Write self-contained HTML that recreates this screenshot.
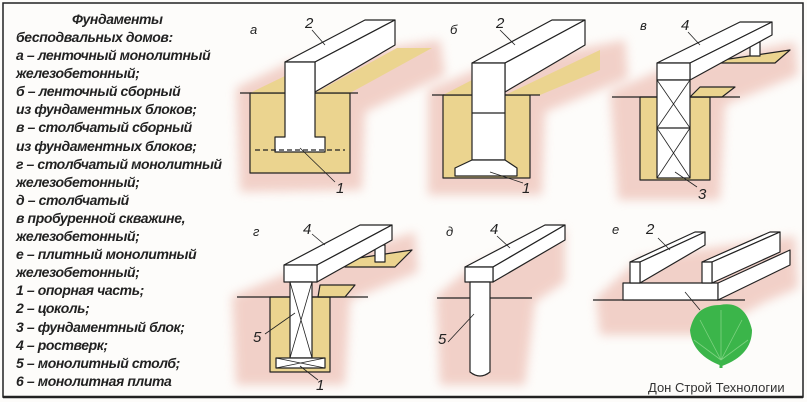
<!DOCTYPE html>
<html><head><meta charset="utf-8"><style>
html,body{margin:0;padding:0;background:#fff;}
svg{display:block}
.t{font-family:"Liberation Sans",sans-serif;font-weight:bold;font-style:italic;font-size:14px;letter-spacing:-0.4px;fill:#222}
.l{font-family:"Liberation Sans",sans-serif;font-style:italic;font-size:15px;fill:#222}
</style></head><body>
<svg width="807" height="402" viewBox="0 0 807 402" xmlns="http://www.w3.org/2000/svg">
<defs><filter id="b" x="-30%" y="-30%" width="160%" height="160%"><feGaussianBlur stdDeviation="5"/></filter></defs>
<rect width="807" height="402" fill="#fdfcfa"/>
<path d="M3,3 H803 V397 H3 Z" fill="none" stroke="#222" stroke-width="1.5"/>
<line x1="3" y1="397" x2="803" y2="397" stroke="#222" stroke-width="2.5"/>
<g class="t">
<text x="72" y="24">Фундаменты</text>
<text x="16" y="42">бесподвальных домов:</text>
<text x="16" y="60">а – ленточный монолитный</text>
<text x="16" y="78">железобетонный;</text>
<text x="16" y="96">б – ленточный сборный</text>
<text x="16" y="114">из фундаментных блоков;</text>
<text x="16" y="132">в – столбчатый сборный</text>
<text x="16" y="151">из фундаментных блоков;</text>
<text x="16" y="169">г – столбчатый монолитный</text>
<text x="16" y="187">железобетонный;</text>
<text x="16" y="205">д – столбчатый</text>
<text x="16" y="223">в пробуренной скважине,</text>
<text x="16" y="241">железобетонный;</text>
<text x="16" y="259">е – плитный монолитный</text>
<text x="16" y="277">железобетонный;</text>
<text x="16" y="295">1 – опорная часть;</text>
<text x="16" y="313">2 – цоколь;</text>
<text x="16" y="332">3 – фундаментный блок;</text>
<text x="16" y="350">4 – ростверк;</text>
<text x="16" y="368">5 – монолитный столб;</text>
<text x="16" y="386">6 – монолитная плита</text>
</g>
<g fill="#f0c9c0" filter="url(#b)" opacity="0.85">
<path d="M236,88 L290,62 L440,40 L445,75 L365,112 L362,190 L240,192 Z"/>
<path d="M428,90 L480,68 L625,40 L628,78 L545,112 L542,195 L428,195 Z"/>
<path d="M610,92 L660,70 L795,42 L798,75 L725,105 L720,200 L618,200 Z"/>
<path d="M232,296 L300,268 L415,232 L418,272 L350,300 L345,385 L236,385 Z"/>
<path d="M436,296 L470,268 L565,228 L565,282 L535,302 L525,385 L440,385 Z"/>
<path d="M596,298 L640,258 L795,236 L798,288 L765,302 L705,335 L600,335 Z"/>
</g>
<g stroke="#222" stroke-width="1.2" fill="#fff" stroke-linejoin="round">
<path d="M250,93 H350 V173 H250 Z" fill="#ebd48f"/>
<path d="M250,93 L285,76 V93 Z" fill="#ebd48f" stroke="none"/>
<path d="M315,93 L350,93 L432,48 L397,48 Z" fill="#ebd48f" stroke="none"/>
<line x1="240" y1="93" x2="358" y2="93"/>
<path d="M285,62 L365,20 L395,20 L315,62 Z"/>
<path d="M315,62 L395,20 L395,45 L315,92 Z"/>
<path d="M285,62 H315 V137 H325 V152 H275 V137 H285 Z"/>
<line x1="255" y1="150" x2="345" y2="150" stroke-dasharray="5,3"/>
<path d="M443,95 H530 V178 H443 Z" fill="#ebd48f"/>
<path d="M443,95 L472,80 V95 Z" fill="#ebd48f" stroke="none"/>
<path d="M505,95 L540,95 L600,70 L600,50 Z" fill="#ebd48f" stroke="none"/>
<line x1="432" y1="95" x2="540" y2="95"/>
<path d="M472,63 L552,20 L585,20 L505,63 Z"/>
<path d="M505,63 L585,20 L585,45 L505,92 Z"/>
<path d="M472,63 H505 V160 H472 Z"/>
<line x1="472" y1="113" x2="505" y2="113"/>
<path d="M472,160 H505 L517,168 V176 H455 V168 Z"/>
<path d="M640,97 H710 V180 H640 Z" fill="#ebd48f"/>
<path d="M690,97 L722,97 L735,87 L700,87 Z" fill="#ebd48f"/>
<path d="M722,60 L790,50 L775,63 L720,63 Z" fill="#ebd48f"/>
<line x1="612" y1="97" x2="740" y2="97"/>
<path d="M750,42 H760 V56 H750 Z"/>
<path d="M657,63 L740,22 L772,22 L690,63 Z"/>
<path d="M690,63 L772,22 L772,35 L690,80 Z"/>
<path d="M657,63 H690 V80 H657 Z"/>
<path d="M657,80 H690 V178 H657 Z"/>
<line x1="657" y1="128" x2="690" y2="128"/>
<path d="M657,80 L690,128 M690,80 L657,128 M657,128 L690,178 M690,128 L657,178" stroke-width="0.8"/>
<path d="M270,297 H330 V372 H270 Z" fill="#ebd48f"/>
<path d="M318,297 L345,297 L355,285 L320,285 Z" fill="#ebd48f"/>
<path d="M345,260 L412,250 L395,267 L345,267 Z" fill="#ebd48f"/>
<line x1="237" y1="297" x2="368" y2="297"/>
<path d="M375,245 H385 V262 H375 Z"/>
<path d="M284,265 L360,225 L392,225 L317,265 Z"/>
<path d="M317,265 L392,225 L392,240 L317,282 Z"/>
<path d="M284,265 H317 V282 H284 Z"/>
<path d="M290,282 H312 V358 H290 Z"/>
<path d="M290,282 L312,358 M312,282 L290,358" stroke-width="0.8"/>
<path d="M276,358 H325 V368 H276 Z"/>
<path d="M276,358 L325,368 M325,358 L276,368" stroke-width="0.8"/>
<line x1="437" y1="298" x2="532" y2="298"/>
<path d="M465,267 L545,225 L565,225 L493,267 Z"/>
<path d="M493,267 L565,225 L565,240 L493,282 Z"/>
<path d="M465,267 H493 V282 H465 Z"/>
<path d="M470,282 H490 V372 Q480,380 470,372 Z"/>
<line x1="593" y1="300" x2="745" y2="300"/>
<path d="M623,283 H718 V300 H623 Z"/>
<path d="M718,283 L790,250 L790,265 L718,300 Z"/>
<path d="M630,262 L695,232 L705,232 L640,262 Z"/>
<path d="M640,262 L705,232 L705,245 L640,283 Z"/>
<path d="M630,262 H640 V283 H630 Z"/>
<path d="M702,262 L770,232 L780,232 L712,262 Z"/>
<path d="M712,262 L780,232 L780,252 L712,283 Z"/>
<path d="M702,262 H712 V283 H702 Z"/>
</g>
<g stroke="#222" stroke-width="0.8">
<line x1="312" y1="30" x2="325" y2="45"/><line x1="300" y1="148" x2="335" y2="182"/>
<line x1="500" y1="30" x2="515" y2="45"/><line x1="490" y1="172" x2="523" y2="183"/>
<line x1="688" y1="32" x2="700" y2="45"/><line x1="675" y1="172" x2="697" y2="187"/>
<line x1="312" y1="234" x2="325" y2="245"/><line x1="265" y1="334" x2="295" y2="313"/><line x1="300" y1="366" x2="318" y2="380"/>
<line x1="497" y1="236" x2="510" y2="248"/><line x1="448" y1="342" x2="474" y2="314"/>
<line x1="658" y1="238" x2="670" y2="250"/><line x1="685" y1="292" x2="700" y2="310"/>
</g>
<g class="l">
<text x="250" y="34" font-size="13">а</text><text x="305" y="28">2</text><text x="336" y="193">1</text>
<text x="450" y="34" font-size="13">б</text><text x="496" y="28">2</text><text x="522" y="193">1</text>
<text x="640" y="30" font-size="13">в</text><text x="681" y="30">4</text><text x="698" y="199">3</text>
<text x="253" y="236" font-size="13">г</text><text x="303" y="234">4</text><text x="253" y="342">5</text><text x="316" y="390">1</text>
<text x="446" y="236" font-size="13">д</text><text x="490" y="234">4</text><text x="438" y="344">5</text>
<text x="612" y="234" font-size="13">е</text><text x="646" y="234">2</text>
</g>
<path d="M720,305 Q745,300 752,330 Q752,355 722,366 Q692,355 690,330 Q695,305 720,305 Z" fill="#3bb54a"/>
<line x1="721" y1="355" x2="721" y2="368" stroke="#3bb54a" stroke-width="3"/>
<g stroke="#8ed98f" stroke-width="0.8" fill="none" opacity="0.8">
<path d="M721,360 L721,310 M721,360 L700,320 M721,360 L742,320 M721,360 L694,340 M721,360 L748,340"/>
</g>
<text x="648" y="392" font-family="'Liberation Sans',sans-serif" font-size="13" fill="#333">Дон Строй Технологии</text>
</svg>
</body></html>
